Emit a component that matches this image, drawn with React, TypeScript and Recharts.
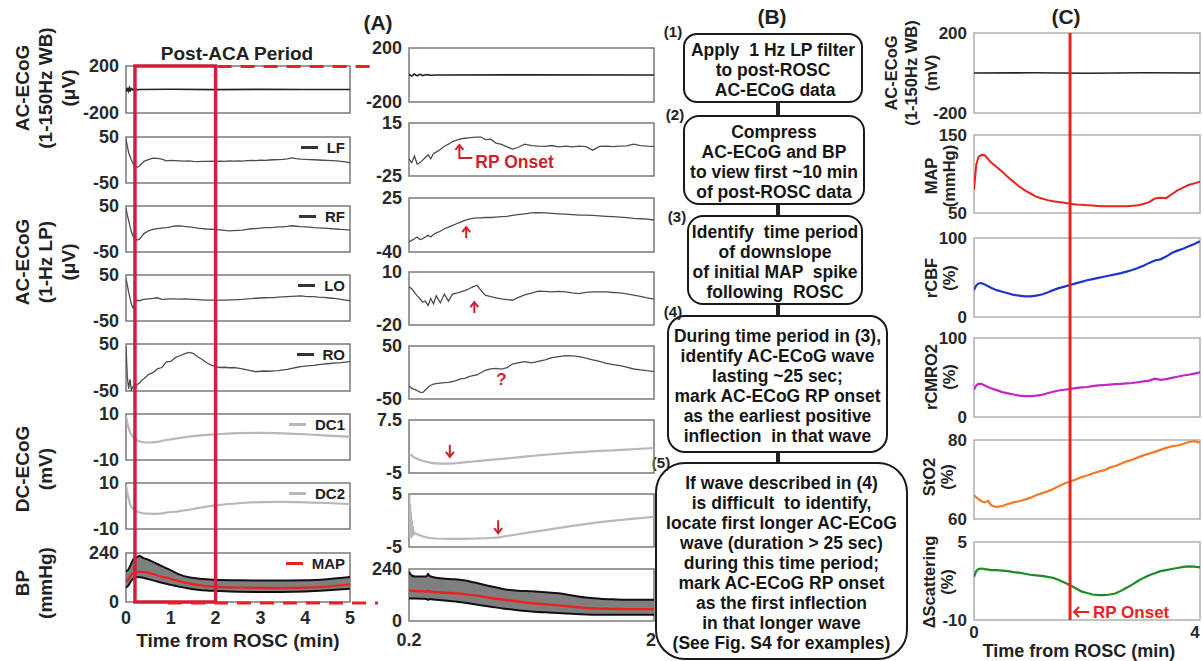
import React from 'react';
import { ComposedChart, Line, Area, XAxis, YAxis, ReferenceArea, ReferenceDot } from 'recharts';

const FONT = '"Liberation Sans", Arial, Helvetica, sans-serif';
const RED = '#d21f2e';
const MAPRED = '#e8231f';

// ---------------- Panel A (left, 0-5 min) ----------------
const leftXTicks = [0, 1, 2, 3, 4, 5];
const leftWbTime = [0, 0.02, 0.04, 0.06, 0.08, 0.1, 0.13, 0.16, 0.2, 0.25, 0.3, 1, 2, 3, 4, 5];
const leftWbValues = [10, -18, 15, -12, 16, -10, 8, -6, 5, -3, 0, 2, -1, 1, 0, 0];

const leftLpTime = [0, 0.03, 0.06, 0.09, 0.12, 0.16, 0.2, 0.25, 0.3, 0.35, 0.4, 0.5, 0.6, 0.7, 0.8, 0.9, 1.0,
  1.1, 1.2, 1.3, 1.4, 1.5, 1.6, 1.7, 1.8, 1.9, 2.0, 2.1, 2.2, 2.3, 2.4, 2.5, 2.6, 2.7, 2.8, 2.9, 3.0,
  3.1, 3.2, 3.3, 3.4, 3.5, 3.6, 3.7, 3.8, 3.9, 4.0, 4.1, 4.2, 4.3, 4.4, 4.5, 4.6, 4.7, 4.8, 4.9, 5.0];
const leftLfValues = [46, 30, 15, 8, 0, -8, -13, -16, -13, -8, -3, 1, 4, 3.5, 2, -2, -1,
  -1.5, -2, -2.5, -2, -3, -3.5, -3, -3, -2.5, -3, -2.5, -3, -2, -2.5, -2, -2.5, -1.5, -1, -1.5, -0.5,
  -1, 0, 0.5, 1, 1.5, 2.5, 4.5, 3, 2, 1.5, 1, 0.5, 0, -0.5, -1, -1.5, -2, -3, -4, -6];
const leftRfValues = [45, 30, 18, 5, -6, -16, -21, -24, -22, -16, -10, -4, -1, 1, 2, 3, 4.5,
  6.5, 7, 5.5, 4.5, 3.5, 2, 1, 0, -0.5, -1, -2, -3, -4, -3.5, -3, -2.5, -1, 0.5, 1, 2,
  3, 3, 3.5, 4.5, 4.5, 5.5, 7, 6, 5, 4.5, 4, 3, 2.5, 2, 1.5, 0.5, 0, -1, -1.5, -2.5];
const leftLoValues = [42, 28, 12, 0, -14, -22, -10, -5, -6, -4, -3, -2, -1, 0.5, -3, -2.5, -2,
  -2, -2.5, -2, -2.5, -3, -3.5, -4, -4.5, -4.5, -5, -4.5, -4.5, -4, -4, -3.5, -3, -2, -1.5, -0.5, 0,
  0.5, 1, 1, 2, 2.5, 3, 3.5, 4, 4.5, 3.5, 3, 3, 2, 1.5, 0.5, -0.5, -1.5, -3, -4.5, -6];
const leftRoValues = [44, -20, -45, -25, -48, -40, -44, -36, -33, -27, -24, -15, -11, -3, 0, 12, 13,
  21, 25, 29, 32, 30, 23, 17, 10, 5, 2, 0, 0.5, -0.5, 0, -1.5, -3, -5, -7, -9, -8,
  -7.5, -8, -7, -6.5, -5, -4, -2, 0, 2, 3, 4, 4.5, 6, 7, 8, 9, 10, 10.5, 11.5, 12.5];

const leftDcTime = [0, 0.05, 0.1, 0.15, 0.2, 0.3, 0.4, 0.5, 0.7, 0.9, 1.2, 1.5, 1.8, 2.1, 2.5, 3.0, 3.5, 4.0, 4.5, 5.0];
const leftDc1Values = [9, 4.6, 1.7, 0.3, -0.8, -1.9, -2.3, -2.4, -2.1, -1.3, -0.4, 0.4, 0.9, 1.3, 1.7, 1.8, 1.6, 1.2, 0.6, 0.2];
const leftDc2Values = [9, 4, 0.4, -1.1, -1.9, -2.8, -3.2, -3.3, -3.4, -2.9, -2.2, -1.3, -0.3, 0.5, 1.2, 1.7, 1.8, 1.6, 1.3, 0.8];

const leftBpTime = [0, 0.05, 0.1, 0.15, 0.2, 0.25, 0.3, 0.4, 0.5, 0.6, 0.7, 0.8, 1.0, 1.2, 1.4, 1.6, 1.8, 2.0, 2.5, 3.0, 3.5, 4.0, 4.5, 5.0];
const leftBpUpper = [150, 158, 180, 205, 216, 220, 225, 214, 207, 197, 186, 176, 155, 134, 121, 115, 111, 109, 106, 105, 105, 106, 112, 122];
const leftMapValues = [100, 110, 128, 140, 145, 147, 148, 146, 143, 138, 130, 124, 113, 101, 91, 84, 78, 74, 71, 69, 68, 70, 76, 87];
const leftBpLower = [70, 80, 98, 112, 120, 122, 121, 118, 112, 106, 100, 94, 84, 74, 66, 60, 56, 54, 50, 49, 49, 51, 57, 65];

// ---------------- Panel A (middle, 0.2-2 min) ----------------
const midXTicks = [0.2, 2];
const midWbTime = [0.2, 0.22, 0.24, 0.26, 0.28, 0.3, 0.33, 0.36, 0.4, 1, 2];
const midWbValues = [6, -8, 7, -6, 5, -4, 3, -2, 0, 1, 0];

const midLpTime = [0.2, 0.22, 0.24, 0.26, 0.28, 0.3, 0.32, 0.34, 0.36, 0.38, 0.4,
  0.43, 0.46, 0.49, 0.52, 0.55, 0.58, 0.61, 0.64, 0.67, 0.7, 0.73, 0.76,
  0.8, 0.84, 0.88, 0.92, 0.96, 1.0,
  1.05, 1.1, 1.15, 1.2, 1.25, 1.3, 1.35, 1.4, 1.45, 1.5, 1.55, 1.6, 1.65, 1.7, 1.75, 1.8, 1.85, 1.9, 1.95, 2.0];
const midLfValues = [-12, -15, -10, -16, -15, -13, -11, -9, -12, -8, -7,
  -5, -2.5, -1, 1, 2, 3, 3.5, 3.8, 4.1, 4.3, 4.4, 2.5,
  2.8, -0.2, -1.2, -3, -4.7, -3.5,
  -1, -2, -2.5, -2.7, -2, -3, -2.5, -3, -2.5, -2.8, -5.5, -2.7, -2.5, -2.8, -2.5, -2.3, -1, -2, -2.5, -2.7];
const midRfValues = [-28, -26, -24, -22, -25, -24, -22, -20, -22, -19, -17,
  -15, -12, -10, -8, -6, -4, -2, -0.5, 0.5, 1, 1, 1.5,
  1.5, 2, 2.5, 3, 4, 5,
  6, 7, 7.5, 7, 6.5, 6, 5.5, 5, 4.5, 4.5, 4, 3.5, 3, 2.5, 2, 1.5, 0.5, 0, -0.5, -1.5];
const midLoValues = [1.6, 0.5, -1.5, -3.5, -5, -7, -6.5, -9, -5, -8, -3.5,
  -7.5, -2.5, -6.5, -2.5, -2, -1.3, -0.5, 0.5, 1.6, 2.5, -0.5, -3.1,
  -4, -4.6, -5.2, -5.6, -6, -4.5,
  -3, -2, -0.8, -1, -1.3, -1, -1.3, -1.8, -2.2, -1.5, -1.3, -1.2, -1.3, -1.6, -1.8, -2.4, -3.1, -3.8, -4.6, -5.4];
const midRoValues = [-25, -30, -32, -34, -37, -38, -33, -28, -24, -22, -21,
  -20, -19, -18.5, -17, -15, -12, -11, -8, -6, -4.7, 0, 4,
  7, 7.9, 6.5, 9, 16, 18,
  20.4, 18, 21, 24, 28, 30, 31.8, 31.5, 30, 27, 24, 21, 17.3, 15, 12.9, 10, 6.6, 5, 3.5, 1.6];

const midDc1Time = [0.2, 0.25, 0.3, 0.35, 0.4, 0.5, 0.6, 0.7, 0.8, 0.9, 1.0, 1.2, 1.4, 1.6, 1.8, 2.0];
const midDc1Values = [-0.4, -1.5, -2.1, -2.5, -2.75, -2.8, -2.5, -2.2, -1.9, -1.6, -1.3, -0.7, -0.2, 0.2, 0.5, 0.9];
const midDc2Time = [0.2, 0.203, 0.206, 0.209, 0.212, 0.215, 0.218, 0.221, 0.224, 0.228, 0.232, 0.24, 0.26, 0.3,
  0.35, 0.4, 0.5, 0.6, 0.7, 0.8, 0.86, 0.9, 1.0, 1.1, 1.2, 1.4, 1.6, 1.8, 2.0];
const midDc2Values = [0, 4.8, -3.2, 3, -3, 1.5, -3.3, 0, -3, -1, -2.8, -2.3, -2.6, -3.0,
  -3.3, -3.4, -3.45, -3.45, -3.4, -3.3, -3.2, -3.0, -2.6, -2.2, -1.8, -1.0, -0.3, 0.2, 0.7];

const midBpTime = [0.2, 0.22, 0.25, 0.3, 0.33, 0.34, 0.35, 0.4, 0.5, 0.6, 0.7, 0.8, 0.9, 1.0, 1.1, 1.2, 1.3, 1.4, 1.5, 1.6, 1.7, 1.8, 1.9, 2.0];
const midBpUpper = [228, 210, 205, 205, 206, 218, 208, 200, 194, 188, 175, 160, 147, 140, 137, 133, 128, 118, 108, 103, 100, 98, 98, 98];
const midMapValues = [141, 139, 138, 137, 136, 140, 136, 133, 129, 124, 117, 106, 98, 90, 82, 77, 72, 66, 60, 57, 56, 55, 55, 55];
const midBpLower = [105, 104, 104, 103, 102, 97, 102, 98, 92, 85, 75, 66, 57, 50, 44, 40, 37, 33, 30, 29, 29, 29, 29, 29];

// annotation positions (time, value)
const rpOnsetLf = { t: 0.57, v: -1.6 };
const arrowRf = { t: 0.62, v: -10 };
const arrowLo = { t: 0.68, v: -7 };
const questionRo = { t: 0.88, v: -14 };
const arrowDc1 = { t: 0.5, v: -1.2 };
const arrowDc2 = { t: 0.855, v: -2.4 };

// ---------------- Panel C (0-4 min) ----------------
const cXTicks = [0, 4];
const rpOnsetTime = 1.7;
const cWbTime = [0, 1, 2, 3, 4];
const cWbValues = [0, 1, -1, 1, 0];
const cTime = [0, 0.04, 0.08, 0.13, 0.19, 0.25, 0.3, 0.4, 0.5, 0.6, 0.7, 0.8, 0.9, 1.0,
  1.1, 1.2, 1.3, 1.4, 1.5, 1.6, 1.7, 1.8, 1.9, 2.0, 2.1, 2.2, 2.3, 2.4, 2.5, 2.6, 2.7, 2.8, 2.9, 3.0,
  3.1, 3.2, 3.3, 3.4, 3.5, 3.6, 3.7, 3.8, 3.9, 4.0];
const cMapValues = [80, 112, 122, 124.5, 124, 119, 115, 109, 103, 96, 90, 84, 79, 75,
  71, 68.5, 66.5, 65, 64, 63, 62, 61, 60.5, 60, 59.5, 59, 58.5, 58.5, 58.5, 58.5, 58.7, 59.2, 60, 61.5,
  64, 68.5, 69.5, 69, 74, 79, 82.5, 86, 88, 90];
const cRcbfValues = [34, 40, 42.5, 43, 41, 39, 37, 34, 32, 30, 28, 27, 26, 26,
  27, 28.5, 31, 34, 36.5, 38.5, 40.5, 42.5, 44.5, 46.5, 48, 49.5, 51, 52.5, 54, 55.5, 57.5, 59.5, 62, 65,
  68.5, 71.5, 73, 76.5, 81, 84, 86.5, 89.5, 92.5, 96];
const cRcmro2Values = [35, 40, 42, 42, 40, 38, 36.5, 34, 31.5, 30, 28.5, 27, 26.5, 26.5,
  27, 28, 30, 32, 33.5, 34.5, 35.5, 36.5, 37.5, 38, 39, 40, 40.5, 41, 41.5, 42, 42.5, 43, 44, 45,
  46, 48.5, 47, 48, 49.5, 51, 52.5, 53.5, 55, 56.5];
const cSto2Values = [66, 65.5, 65, 64.5, 64.2, 64.6, 63.5, 63, 63.3, 63.8, 64.2, 64.5, 64.9, 65.4,
  66, 66.5, 67, 67.6, 68.3, 69, 69.5, 70, 70.6, 71, 71.5, 72, 72.3, 73, 73.4, 74, 74.6, 75, 75.6, 76.1,
  76.6, 77, 77.5, 78, 78.4, 78.6, 79, 79.5, 79.7, 79.3];
const cScatterValues = [-1.7, -0.6, -0.2, -0.1, -0.2, -0.3, -0.4, -0.4, -0.5, -0.6, -0.8, -0.9, -1.1, -1.3,
  -1.4, -1.5, -1.7, -1.9, -2.3, -2.8, -3.3, -3.9, -4.5, -4.8, -5.1, -5.2, -5.2, -5.1, -4.9, -4.4, -3.8, -3.2, -2.5, -1.9,
  -1.4, -1.0, -0.6, -0.4, -0.2, 0, 0.2, 0.3, 0.25, 0.1];

// ---------------- Panel B text ----------------
const flowLabels = ['(1)', '(2)', '(3)', '(4)', '(5)'];
const flowTexts = [
  ['Apply  1 Hz LP filter', 'to post-ROSC', ' AC-ECoG data'],
  ['Compress', 'AC-ECoG and BP', 'to view first ~10 min', 'of post-ROSC data'],
  ['Identify  time period', 'of downslope', 'of initial MAP  spike', 'following  ROSC'],
  ['During time period in (3),', 'identify AC-ECoG wave', 'lasting ~25 sec;', 'mark AC-ECoG RP onset', 'as the earliest positive', 'inflection  in that wave'],
  ['If wave described in (4)', 'is difficult  to identify,', 'locate first longer AC-ECoG', 'wave (duration > 25 sec)', 'during this time period;', 'mark AC-ECoG RP onset', 'as the first inflection', 'in that longer wave', '(See Fig. S4 for examples)'],
];

// ---------------- Layout ----------------
const PADL = 70, PADR = 12, PADT = 14, PADB = 34;
const LX = 126, LW = 224;
const MX = 409, MW = 245;
const CX = 974, CW = 226;

type LineSpec = { values: number[]; color: string; width: number; curve?: 'linear' | 'monotone' };
type StripProps = {
  x: number; y: number; w: number; h: number;
  times: number[];
  lines: LineSpec[];
  band?: { lo: number[]; hi: number[]; color: string };
  xDomain: [number, number]; yDomain: [number, number];
  yTicks: number[]; xTicks?: number[]; xTickGap?: number; lastTickShift?: number;
  boxColor: string; fontSize: number;
  legend?: { label: string; color: string };
  marks?: React.ReactNode[];
};

function Strip(p: StripProps) {
  const data = p.times.map((t, i) => {
    const row: Record<string, any> = { t };
    p.lines.forEach((l, j) => { row['s' + j] = l.values[i]; });
    if (p.band) row.band = [p.band.lo[i], p.band.hi[i]];
    return row;
  });
  const tickStyle = { fontSize: p.fontSize, fontWeight: 700, fill: '#2a2a2a', fontFamily: FONT };
  const W = p.w + PADL + PADR;
  const H = p.h + PADT + PADB;
  const xTick = (props: any) => {
    const v = props.payload.value;
    const shift = v === p.xDomain[1] ? (p.lastTickShift ?? 0) : 0;
    return (
      <text x={props.x + shift} y={props.y} dy="0.71em" textAnchor="middle" {...tickStyle}>{v}</text>
    );
  };
  return (
    <div style={{ position: 'absolute', left: p.x - PADL, top: p.y - PADT, width: W, height: H }}>
      <ComposedChart width={W} height={H} data={data} margin={{ top: PADT, right: PADR, bottom: 0, left: 0 }}>
        <XAxis dataKey="t" type="number" domain={p.xDomain} allowDataOverflow ticks={p.xTicks} interval={0}
          tick={p.xTicks ? xTick : false} axisLine={false} tickLine={false} height={PADB}
          tickSize={p.xTickGap ?? 6} tickMargin={2} />
        <YAxis type="number" domain={p.yDomain} allowDataOverflow ticks={p.yTicks} interval={0}
          tick={tickStyle} axisLine={false} tickLine={false} width={PADL} tickSize={5} tickMargin={2} />
        {p.band && (
          <Area dataKey="band" type="monotone" fill={p.band.color} fillOpacity={1} stroke="none"
            isAnimationActive={false} activeDot={false} />
        )}
        {p.lines.map((l, j) => (
          <Line key={j} dataKey={'s' + j} type={l.curve ?? 'linear'} stroke={l.color} strokeWidth={l.width}
            dot={false} activeDot={false} isAnimationActive={false} />
        ))}
        <ReferenceArea x1={p.xDomain[0]} x2={p.xDomain[1]} y1={p.yDomain[0]} y2={p.yDomain[1]}
          fill="none" fillOpacity={0} stroke={p.boxColor} strokeWidth={1.5} ifOverflow="visible" />
        {p.marks}
      </ComposedChart>
      {p.legend && (
        <div style={{ position: 'absolute', top: PADT + 2, right: PADR + 5, display: 'flex', alignItems: 'center', gap: 9, fontSize: 15, fontWeight: 700, color: '#222', lineHeight: '17px' }}>
          <span style={{ display: 'inline-block', width: 17, height: 2.5, background: p.legend.color }} />
          <span>{p.legend.label}</span>
        </div>
      )}
    </div>
  );
}

function RotLabel({ cx, cy, lines, size, lh }: { cx: number; cy: number; lines: string[]; size: number; lh: number }) {
  return (
    <div style={{ position: 'absolute', left: cx, top: cy, transform: 'translate(-50%, -50%) rotate(-90deg)', textAlign: 'center', fontSize: size, lineHeight: lh + 'px', fontWeight: 700, whiteSpace: 'nowrap', color: '#222' }}>
      {lines.map((l, i) => <div key={i}>{l}</div>)}
    </div>
  );
}

function Txt({ cx, cy, text, size, color = '#222' }: { cx: number; cy: number; text: string; size: number; color?: string }) {
  return (
    <div style={{ position: 'absolute', left: cx, top: cy, transform: 'translate(-50%, -50%)', fontSize: size, fontWeight: 700, whiteSpace: 'nowrap', color, lineHeight: 1 }}>{text}</div>
  );
}

const upArrow = (len: number) => (props: any) => {
  const { cx, cy } = props;
  return (
    <g>
      <line x1={cx} y1={cy + 1} x2={cx} y2={cy + len} stroke={RED} strokeWidth={2} />
      <path d={`M${cx - 4},${cy + 5} L${cx},${cy} L${cx + 4},${cy + 5}`} fill="none" stroke={RED} strokeWidth={2} />
    </g>
  );
};
const downArrow = (len: number) => (props: any) => {
  const { cx, cy } = props;
  return (
    <g>
      <line x1={cx} y1={cy - 1} x2={cx} y2={cy - len} stroke={RED} strokeWidth={2} />
      <path d={`M${cx - 4},${cy - 5} L${cx},${cy} L${cx + 4},${cy - 5}`} fill="none" stroke={RED} strokeWidth={2} />
    </g>
  );
};
const rpOnsetShape = (props: any) => {
  const { cx, cy } = props;
  return (
    <g>
      <path d={`M${cx},${cy + 1} L${cx},${cy + 13} L${cx + 13},${cy + 13}`} fill="none" stroke={RED} strokeWidth={2} />
      <path d={`M${cx - 4},${cy + 5} L${cx},${cy} L${cx + 4},${cy + 5}`} fill="none" stroke={RED} strokeWidth={2} />
      <text x={cx + 16} y={cy + 17} dominantBaseline="central" fontSize={17.5} fontWeight={700} fill={RED} fontFamily={FONT}>RP Onset</text>
    </g>
  );
};
const questionShape = (props: any) => {
  const { cx, cy } = props;
  return <text x={cx} y={cy} textAnchor="middle" dominantBaseline="central" fontSize={17} fontWeight={700} fill={RED} fontFamily={FONT}>?</text>;
};

const ECOG = '#4d4d4d';
const DCG = '#b8b8b8';

export default function App() {
  const boxA = '#7a7a7a';
  const boxC = '#b0b0b0';
  const lx = (t: number) => LX + (t / 5) * LW;
  const cxr = CX + (rpOnsetTime / 4) * CW;

  const flowGeom = [
    { x: 683, y: 33, w: 180, h: 70, r: 14 },
    { x: 683, y: 115, w: 182, h: 90, r: 16 },
    { x: 687, y: 215, w: 176, h: 90, r: 16 },
    { x: 667, y: 315, w: 221, h: 138, r: 18 },
    { x: 655, y: 462, w: 253, h: 198, r: 30 },
  ];
  const flowLabelPos = [[673, 31], [675, 114], [677, 216], [673, 311], [661, 462]];

  return (
    <div style={{ position: 'absolute', left: 0, top: 0, width: 1202, height: 661, overflow: 'hidden', background: '#fff', fontFamily: FONT }}>
      {/* Titles */}
      <Txt cx={378} cy={22} text="(A)" size={21} />
      <Txt cx={772} cy={16} text="(B)" size={21} />
      <Txt cx={1066} cy={16} text="(C)" size={21} />
      <Txt cx={237} cy={53} text="Post-ACA Period" size={19} />
      <Txt cx={238} cy={640} text="Time from ROSC (min)" size={19} />
      <Txt cx={1079} cy={651} text="Time from ROSC (min)" size={18} />

      {/* Left y-labels */}
      <RotLabel cx={45} cy={88} lines={['AC-ECoG', '(1-150Hz WB)', '(μV)']} size={19} lh={23} />
      <RotLabel cx={45} cy={262} lines={['AC-ECoG', '(1-Hz LP)', '(μV)']} size={19} lh={23} />
      <RotLabel cx={34} cy={469} lines={['DC-ECoG', '(mV)']} size={19} lh={23} />
      <RotLabel cx={34} cy={583} lines={['BP', '(mmHg)']} size={19} lh={23} />

      {/* C y-labels */}
      <RotLabel cx={911} cy={73} lines={['AC-ECoG', '(1-150Hz WB)', '(mV)']} size={16.5} lh={20} />
      <RotLabel cx={940} cy={176} lines={['MAP', '(mmHg)']} size={16.5} lh={18} />
      <RotLabel cx={940} cy={278} lines={['rCBF', '(%)']} size={16.5} lh={18} />
      <RotLabel cx={940} cy={377} lines={['rCMRO2', '(%)']} size={16.5} lh={18} />
      <RotLabel cx={938} cy={477} lines={['StO2', '(%)']} size={16.5} lh={18} />
      <RotLabel cx={938} cy={582} lines={['ΔScattering', '(%)']} size={16.5} lh={18} />

      {/* Panel B flowchart (drawn under charts so tick labels stay visible) */}
      {flowGeom.slice(0, 4).map((g, i) => (
        <div key={'c' + i} style={{ position: 'absolute', left: 776, top: g.y + g.h, width: 4, height: flowGeom[i + 1].y - (g.y + g.h), background: '#222' }} />
      ))}
      {flowGeom.map((g, i) => (
        <div key={'b' + i} style={{ position: 'absolute', left: g.x, top: g.y, width: g.w, height: g.h, boxSizing: 'border-box', border: '2px solid #1a1a1a', borderRadius: g.r, display: 'flex', flexDirection: 'column', justifyContent: 'center', alignItems: 'center', fontSize: 17.5, fontWeight: 700, lineHeight: '20px', color: '#161616', paddingTop: 3 }}>
          {flowTexts[i].map((l, k) => <div key={k} style={{ whiteSpace: 'pre' }}>{l}</div>)}
        </div>
      ))}
      {flowLabels.map((l, i) => (
        <Txt key={'l' + i} cx={flowLabelPos[i][0]} cy={flowLabelPos[i][1]} text={l} size={15} />
      ))}

      {/* Left column */}
      <Strip x={LX} y={66} w={LW} h={47} times={leftWbTime} lines={[{ values: leftWbValues, color: '#222', width: 1.6 }]}
        xDomain={[0, 5]} yDomain={[-200, 200]} yTicks={[-200, 200]} boxColor={boxA} fontSize={18} />
      <Strip x={LX} y={137} w={LW} h={46} times={leftLpTime} lines={[{ values: leftLfValues, color: ECOG, width: 1.3 }]}
        xDomain={[0, 5]} yDomain={[-50, 50]} yTicks={[-50, 50]} boxColor={boxA} fontSize={18} legend={{ label: 'LF', color: '#333' }} />
      <Strip x={LX} y={206} w={LW} h={46} times={leftLpTime} lines={[{ values: leftRfValues, color: ECOG, width: 1.3 }]}
        xDomain={[0, 5]} yDomain={[-50, 50]} yTicks={[-50, 50]} boxColor={boxA} fontSize={18} legend={{ label: 'RF', color: '#333' }} />
      <Strip x={LX} y={275} w={LW} h={46} times={leftLpTime} lines={[{ values: leftLoValues, color: ECOG, width: 1.3 }]}
        xDomain={[0, 5]} yDomain={[-50, 50]} yTicks={[-50, 50]} boxColor={boxA} fontSize={18} legend={{ label: 'LO', color: '#333' }} />
      <Strip x={LX} y={344} w={LW} h={47} times={leftLpTime} lines={[{ values: leftRoValues, color: ECOG, width: 1.3 }]}
        xDomain={[0, 5]} yDomain={[-50, 50]} yTicks={[-50, 50]} boxColor={boxA} fontSize={18} legend={{ label: 'RO', color: '#333' }} />
      <Strip x={LX} y={414} w={LW} h={46} times={leftDcTime} lines={[{ values: leftDc1Values, color: DCG, width: 2.2, curve: 'monotone' }]}
        xDomain={[0, 5]} yDomain={[-10, 10]} yTicks={[-10, 10]} boxColor={boxA} fontSize={18} legend={{ label: 'DC1', color: DCG }} />
      <Strip x={LX} y={483} w={LW} h={46} times={leftDcTime} lines={[{ values: leftDc2Values, color: DCG, width: 2.2, curve: 'monotone' }]}
        xDomain={[0, 5]} yDomain={[-10, 10]} yTicks={[-10, 10]} boxColor={boxA} fontSize={18} legend={{ label: 'DC2', color: DCG }} />
      <Strip x={LX} y={553} w={LW} h={49} times={leftBpTime}
        band={{ lo: leftBpLower, hi: leftBpUpper, color: '#7f7f7f' }}
        lines={[
          { values: leftBpUpper, color: '#111', width: 2, curve: 'monotone' },
          { values: leftBpLower, color: '#111', width: 2, curve: 'monotone' },
          { values: leftMapValues, color: MAPRED, width: 2.2, curve: 'monotone' },
        ]}
        xDomain={[0, 5]} yDomain={[0, 240]} yTicks={[0, 240]} xTicks={leftXTicks} xTickGap={7} boxColor={boxA} fontSize={18}
        legend={{ label: 'MAP', color: MAPRED }} />

      {/* Middle column */}
      <Strip x={MX} y={48} w={MW} h={54} times={midWbTime} lines={[{ values: midWbValues, color: '#222', width: 1.6 }]}
        xDomain={[0.2, 2]} yDomain={[-200, 200]} yTicks={[-200, 200]} boxColor={boxA} fontSize={18} />
      <Strip x={MX} y={123} w={MW} h={53} times={midLpTime} lines={[{ values: midLfValues, color: ECOG, width: 1.3 }]}
        xDomain={[0.2, 2]} yDomain={[-25, 15]} yTicks={[-25, 15]} boxColor={boxA} fontSize={18}
        marks={[<ReferenceDot key="rp" x={rpOnsetLf.t} y={rpOnsetLf.v} shape={rpOnsetShape} ifOverflow="visible" />]} />
      <Strip x={MX} y={198} w={MW} h={54} times={midLpTime} lines={[{ values: midRfValues, color: ECOG, width: 1.3 }]}
        xDomain={[0.2, 2]} yDomain={[-40, 25]} yTicks={[-40, 25]} boxColor={boxA} fontSize={18}
        marks={[<ReferenceDot key="a" x={arrowRf.t} y={arrowRf.v} shape={upArrow(11)} ifOverflow="visible" />]} />
      <Strip x={MX} y={272} w={MW} h={53} times={midLpTime} lines={[{ values: midLoValues, color: ECOG, width: 1.3 }]}
        xDomain={[0.2, 2]} yDomain={[-20, 10]} yTicks={[-20, 10]} boxColor={boxA} fontSize={18}
        marks={[<ReferenceDot key="a" x={arrowLo.t} y={arrowLo.v} shape={upArrow(11)} ifOverflow="visible" />]} />
      <Strip x={MX} y={346} w={MW} h={53} times={midLpTime} lines={[{ values: midRoValues, color: ECOG, width: 1.3 }]}
        xDomain={[0.2, 2]} yDomain={[-50, 50]} yTicks={[-50, 50]} boxColor={boxA} fontSize={18}
        marks={[<ReferenceDot key="q" x={questionRo.t} y={questionRo.v} shape={questionShape} ifOverflow="visible" />]} />
      <Strip x={MX} y={420} w={MW} h={53} times={midDc1Time} lines={[{ values: midDc1Values, color: DCG, width: 2.2, curve: 'monotone' }]}
        xDomain={[0.2, 2]} yDomain={[-5, 7.5]} yTicks={[-5, 7.5]} boxColor={boxA} fontSize={18}
        marks={[<ReferenceDot key="a" x={arrowDc1.t} y={arrowDc1.v} shape={downArrow(12)} ifOverflow="visible" />]} />
      <Strip x={MX} y={494} w={MW} h={53} times={midDc2Time} lines={[{ values: midDc2Values, color: DCG, width: 2.2 }]}
        xDomain={[0.2, 2]} yDomain={[-5, 5]} yTicks={[-5, 5]} boxColor={boxA} fontSize={18}
        marks={[<ReferenceDot key="a" x={arrowDc2.t} y={arrowDc2.v} shape={downArrow(13)} ifOverflow="visible" />]} />
      <Strip x={MX} y={569} w={MW} h={52} times={midBpTime}
        band={{ lo: midBpLower, hi: midBpUpper, color: '#7f7f7f' }}
        lines={[
          { values: midBpUpper, color: '#111', width: 2, curve: 'monotone' },
          { values: midBpLower, color: '#111', width: 2, curve: 'monotone' },
          { values: midMapValues, color: MAPRED, width: 2.4, curve: 'monotone' },
        ]}
        xDomain={[0.2, 2]} yDomain={[0, 240]} yTicks={[0, 240]} xTicks={midXTicks} xTickGap={10} lastTickShift={-3} boxColor={boxA} fontSize={18} />

      {/* Panel C */}
      <Strip x={CX} y={33} w={CW} h={80} times={cWbTime} lines={[{ values: cWbValues, color: '#222', width: 1.6 }]}
        xDomain={[0, 4]} yDomain={[-200, 200]} yTicks={[-200, 200]} boxColor={boxC} fontSize={17} />
      <Strip x={CX} y={135} w={CW} h={78} times={cTime} lines={[{ values: cMapValues, color: MAPRED, width: 2 }]}
        xDomain={[0, 4]} yDomain={[50, 150]} yTicks={[50, 150]} boxColor={boxC} fontSize={17} />
      <Strip x={CX} y={238} w={CW} h={79} times={cTime} lines={[{ values: cRcbfValues, color: '#1f35cc', width: 2.2 }]}
        xDomain={[0, 4]} yDomain={[0, 100]} yTicks={[0, 100]} boxColor={boxC} fontSize={17} />
      <Strip x={CX} y={338} w={CW} h={79} times={cTime} lines={[{ values: cRcmro2Values, color: '#c424c8', width: 2.2 }]}
        xDomain={[0, 4]} yDomain={[0, 100]} yTicks={[0, 100]} boxColor={boxC} fontSize={17} />
      <Strip x={CX} y={440} w={CW} h={79} times={cTime} lines={[{ values: cSto2Values, color: '#f27a24', width: 2.2 }]}
        xDomain={[0, 4]} yDomain={[60, 80]} yTicks={[60, 80]} boxColor={boxC} fontSize={17} />
      <Strip x={CX} y={542} w={CW} h={78} times={cTime} lines={[{ values: cScatterValues, color: '#1f8a24', width: 2.2 }]}
        xDomain={[0, 4]} yDomain={[-10, 5]} yTicks={[-10, 5]} xTicks={cXTicks} xTickGap={4} lastTickShift={-5} boxColor={boxC} fontSize={17} />

      {/* Overlay annotations */}
      <svg width={1202} height={661} style={{ position: 'absolute', left: 0, top: 0, pointerEvents: 'none' }}>
        <rect x={lx(0.2)} y={66} width={lx(2) - lx(0.2)} height={602 - 66} fill="none" stroke="#cf1f3c" strokeWidth={3.5} />
        <line x1={lx(2) + 2} y1={66.5} x2={372} y2={66.5} stroke={MAPRED} strokeWidth={3} strokeDasharray="14 9" />
        <line x1={168} y1={603} x2={378} y2={603} stroke={MAPRED} strokeWidth={3} strokeDasharray="14 9" />
        <line x1={cxr} y1={33} x2={cxr} y2={620} stroke={MAPRED} strokeWidth={3} />
        <line x1={cxr + 4} y1={612} x2={cxr + 19} y2={612} stroke={MAPRED} strokeWidth={2} />
        <path d={`M${cxr + 9},${607} L${cxr + 4},${612} L${cxr + 9},${617}`} fill="none" stroke={MAPRED} strokeWidth={2} />
        <text x={cxr + 23} y={612} dominantBaseline="central" fontSize={17} fontWeight={700} fill={MAPRED} fontFamily={FONT}>RP Onset</text>
      </svg>
    </div>
  );
}
